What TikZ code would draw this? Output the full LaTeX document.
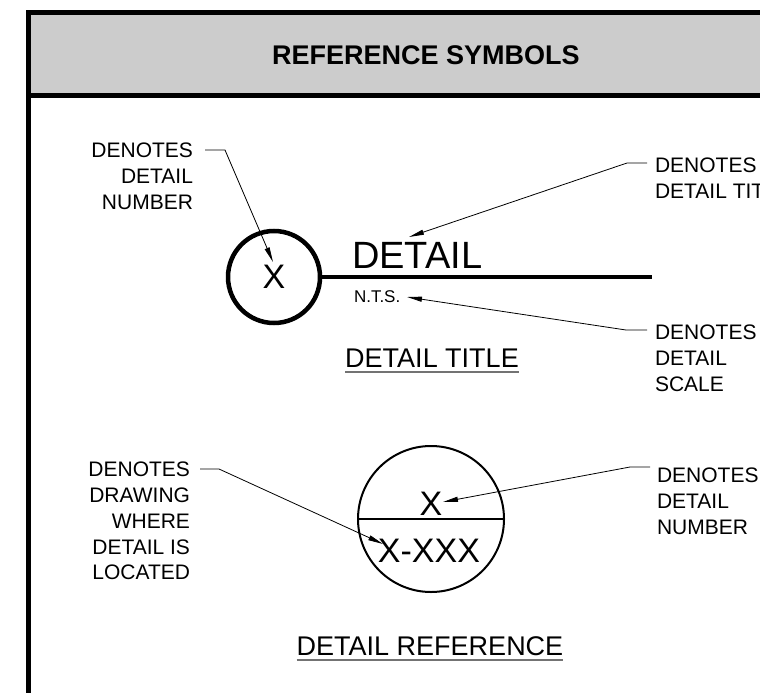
\documentclass[tikz,border=0pt]{standalone}
\usepackage{fontspec}
\setmainfont{Liberation Sans}
\usetikzlibrary{arrows.meta}

\begin{document}
\begin{tikzpicture}
[x=1pt,y=-1pt,every node/.style={inner sep=0pt,outer sep=0pt},
 note/.style={font=\fontsize{21}{25.8}\selectfont},
 heading/.style={font=\fontsize{27}{30}\selectfont},
 lead/.style={line width=0.8pt,-{Triangle[length=15pt,width=5pt]}},
 heavy/.style={line width=4.5pt},
 uline/.style={black!55,line width=1.6pt}]
\useasboundingbox (0,0) rectangle (760,693);
% sheet frame and header band
\fill[black!20] (31,15) rectangle (800,92.5);
\draw[line width=5pt] (28.5,720) |- (800,12.5);
\draw[line width=5pt] (28.5,95) -- (800,95);
\node[font=\bfseries\fontsize{27}{30}\selectfont] (title) at (426,55) {REFERENCE SYMBOLS};

% detail title symbol
\node[circle,draw,heavy,minimum size=92pt,font=\fontsize{34}{36}\selectfont] (dnum) at (274,277) {X};
\coordinate (tend) at (652,277);
\draw[heavy] (dnum.east) -- (tend);
\node[anchor=base west,font=\fontsize{38}{42}\selectfont] (dtext) at (352,268) {DETAIL};
\node[anchor=base west,font=\fontsize{17}{20}\selectfont] (nts) at (354,302) {N.T.S.};
\node[heading,anchor=base] (ttl) at (432,367) {DETAIL TITLE};
\draw[uline] ([yshift=-5pt]ttl.south west) -- ([yshift=-5pt]ttl.south east);

\node[note,align=right,anchor=north east] (n1) at (193,143) {DENOTES\\DETAIL\\NUMBER};
\node[note,align=left,anchor=north west] (n2) at (655,158) {DENOTES\\DETAIL TITLE};
\node[note,align=left,anchor=north west] (n3) at (655,325) {DENOTES\\DETAIL\\SCALE};

% detail reference symbol
\node[circle,draw,line width=2pt,minimum size=146pt] (dref) at (431,519) {};
\draw[line width=2pt] (dref.west) -- (dref.east);
\node[anchor=base,font=\fontsize{34}{38}\selectfont] (sheetno) at (431,515) {X};
\node[anchor=base,font=\fontsize{34}{38}\selectfont] (sheetref) at (429,562) {X-XXX};
\node[heading,anchor=base] (rttl) at (430,655) {DETAIL REFERENCE};
\draw[uline] ([yshift=-5pt]rttl.south west) -- ([yshift=-5pt]rttl.south east);

\node[note,align=right,anchor=north east] (n4) at (190,462) {DENOTES\\DRAWING\\WHERE\\DETAIL IS\\LOCATED};
\node[note,align=left,anchor=north west] (n5) at (657,468) {DENOTES\\DETAIL\\NUMBER};

% leaders
\coordinate (k1) at (225,150); \coordinate (t1) at (273,262);
\coordinate (k2) at (627,163); \coordinate (t2) at (409,237);
\coordinate (k3) at (626,330); \coordinate (t3) at (407,297);
\coordinate (k4) at (219,469); \coordinate (t4) at (383,544);
\coordinate (k5) at (630,467); \coordinate (t5) at (443,502);
\draw[lead] ([xshift=12pt,yshift=-7pt]n1.north east) -- (k1) -- (t1);
\draw[lead] ([xshift=-8pt,yshift=-5pt]n2.north west) -- (k2) -- (t2);
\draw[lead] ([xshift=-8pt,yshift=-5pt]n3.north west) -- (k3) -- (t3);
\draw[lead] ([xshift=10pt,yshift=-7pt]n4.north east) -- (k4) -- (t4);
\draw[lead] ([xshift=-7pt,yshift=1pt]n5.north west) -- (k5) -- (t5);
\end{tikzpicture}
\end{document}
